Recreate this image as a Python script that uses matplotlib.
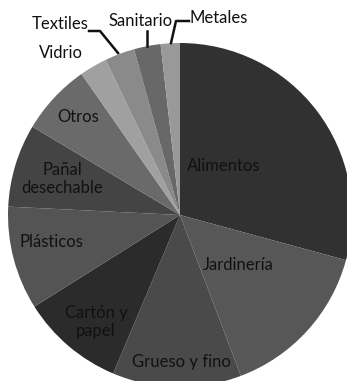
import matplotlib
matplotlib.use("Agg")
import matplotlib.pyplot as plt

# Composición de residuos (porcentaje aproximado)
categorias = ["Alimentos", "Jardinería", "Grueso y fino", "Cartón y\npapel",
              "Plásticos", "Pañal\ndesechable", "Otros", "Vidrio",
              "Textiles", "Sanitario", "Metales"]
porcentajes = [29.2, 15.0, 12.1, 9.7, 9.7, 7.8, 6.7, 2.6, 2.8, 2.5, 1.8]
colores = ["#313131", "#575757", "#4a4a4a", "#2b2b2b", "#545454", "#444444",
           "#6a6a6a", "#a0a0a0", "#8a8a8a", "#686868", "#999999"]

# posiciones de las etiquetas en píxeles (x, y desde arriba)
pos_etiquetas = [(224, 166), (238, 265), (181, 362), (96, 322), (51, 242),
                 (62, 179), (78, 117), (61, 53), (60, 24), (141, 21), (219, 18)]

W, H = 347, 381
cx, cy, R = 180, 215, 172


def a_datos(px, py):
    return (px - cx) / R, (cy - py) / R


fig = plt.figure(figsize=(W / 100, H / 100), dpi=100)
ax = fig.add_axes([0, 0, 1, 1])

ax.pie(porcentajes, colors=colores, startangle=90, counterclock=False,
       radius=1, wedgeprops=dict(linewidth=0))

for nombre, (px, py) in zip(categorias, pos_etiquetas):
    x, y = a_datos(px, py)
    ax.text(x, y, nombre, ha="center", va="center", fontsize=12,
            family="Lato", color="#111111", linespacing=1.1)

# líneas guía de las etiquetas pequeñas
guias = [
    [(89, 31), (100, 31), (118, 53)],   # Textiles
    [(147, 31), (147, 46)],             # Sanitario
    [(189, 21), (176, 21), (171, 43)],  # Metales
]
for g in guias:
    xs, ys = zip(*[a_datos(px, py) for px, py in g])
    ax.plot(xs, ys, color="#111111", linewidth=1.8)

ax.set_xlim(a_datos(0, 0)[0], a_datos(W, 0)[0])
ax.set_ylim(a_datos(0, H)[1], a_datos(0, 0)[1])
ax.set_aspect("auto")
ax.axis("off")

fig.savefig("out.png", dpi=100, facecolor="white")
